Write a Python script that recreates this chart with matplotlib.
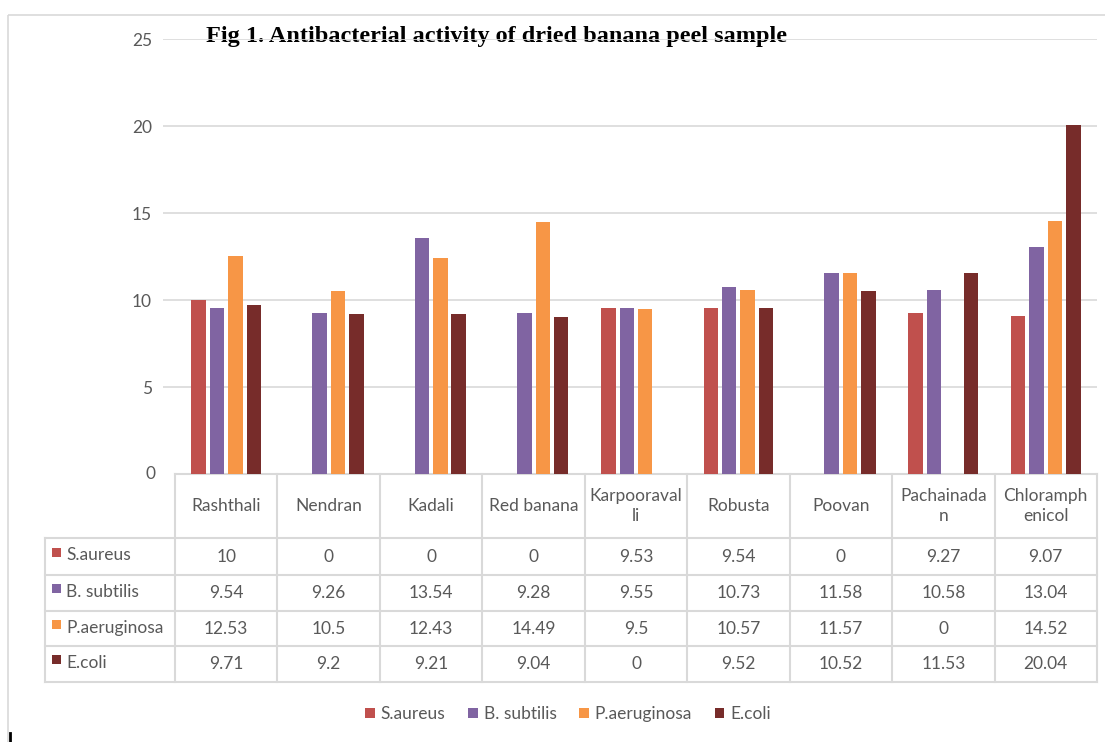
import numpy as np
import matplotlib.pyplot as plt
from matplotlib.patches import Rectangle

# Datos del gráfico
categorias = ["Rashthali", "Nendran", "Kadali", "Red banana", "Karpooraval\nli",
              "Robusta", "Poovan", "Pachainada\nn", "Chloramph\nenicol"]
series = ["S.aureus", "B. subtilis", "P.aeruginosa", "E.coli"]
s_aureus = [10, 0, 0, 0, 9.53, 9.54, 0, 9.27, 9.07]
b_subtilis = [9.54, 9.26, 13.54, 9.28, 9.55, 10.73, 11.58, 10.58, 13.04]
p_aeruginosa = [12.53, 10.5, 12.43, 14.49, 9.5, 10.57, 11.57, 0, 14.52]
e_coli = [9.71, 9.2, 9.21, 9.04, 0, 9.52, 10.52, 11.53, 20.04]
# texto tal como aparece en la tabla
tabla_txt = [
    ["10", "0", "0", "0", "9.53", "9.54", "0", "9.27", "9.07"],
    ["9.54", "9.26", "13.54", "9.28", "9.55", "10.73", "11.58", "10.58", "13.04"],
    ["12.53", "10.5", "12.43", "14.49", "9.5", "10.57", "11.57", "0", "14.52"],
    ["9.71", "9.2", "9.21", "9.04", "0", "9.52", "10.52", "11.53", "20.04"],
]
colores = ["#C0504D", "#8064A2", "#F79646", "#772C2A"]
yticks = [0, 5, 10, 15, 20, 25]

plt.rcParams['font.family'] = ['Lato', 'DejaVu Sans']
gris = "#595959"
linea = "#D9D9D9"
fs = 12.5

W, H = 1105, 742
fig = plt.figure(figsize=(W / 100, H / 100), dpi=100)

# capa en pixeles para tabla, marco y leyenda
base = fig.add_axes([0, 0, 1, 1])
base.set_xlim(0, W)
base.set_ylim(H, 0)
base.axis("off")

# marco exterior del gráfico
base.add_patch(Rectangle((8, 15), 1120, 760, fill=False, ec=linea, lw=1.2))
base.plot([10, 10], [733, 742], color="black", lw=2)

# posiciones de la tabla
x_ini, x_fin = 175, 1097
n = len(categorias)
ancho_col = (x_fin - x_ini) / n
x_izq = 163
y0, y25 = 474, 39

ax = fig.add_axes([x_izq / W, 1 - y0 / H, (x_fin - x_izq) / W, (y0 - y25) / H])
ax.set_xlim(-0.5 - (x_ini - x_izq) / ancho_col, n - 0.5)
ax.set_ylim(0, 25)
ax.set_yticks(yticks[1:])
ax.yaxis.grid(True, color=linea, lw=1.2)
ax.set_axisbelow(True)
ax.tick_params(axis="y", length=0, pad=8, labelsize=fs, labelcolor=gris)
ax.set_xticks([])
for s in ax.spines.values():
    s.set_visible(False)
ax.patch.set_alpha(0)

x = np.arange(n)
slot = 0.18
datos = [s_aureus, b_subtilis, p_aeruginosa, e_coli]
barras = []
for i, (vals, col) in enumerate(zip(datos, colores)):
    b = ax.bar(x + (i - 1.5) * slot, vals, width=0.142, color=col, label=series[i])
    barras.append(b)

# etiqueta del cero a la altura de la tabla
base.text(155, y0, "0", ha="right", va="center", fontsize=fs, color=gris)

# tabla de datos
filas_y = [474, 538, 575, 611, 646, 682]
x_cols = [x_ini + ancho_col * k for k in range(n + 1)]
base.plot([x_ini, x_fin], [filas_y[0], filas_y[0]], color=linea, lw=1.5)
for yy in filas_y[1:]:
    base.plot([45, x_fin], [yy, yy], color=linea, lw=1.5)
for xx in x_cols:
    base.plot([xx, xx], [filas_y[0], filas_y[-1]], color=linea, lw=1.5)
base.plot([45, 45], [filas_y[1], filas_y[-1]], color=linea, lw=1.5)

for k, cat in enumerate(categorias):
    cx = x_ini + ancho_col * (k + 0.5)
    base.text(cx, (filas_y[0] + filas_y[1]) / 2, cat, ha="center", va="center",
              fontsize=fs, color=gris, linespacing=1.3)
    for r in range(4):
        cy = (filas_y[r + 1] + filas_y[r + 2]) / 2
        base.text(cx, cy, tabla_txt[r][k], ha="center", va="center", fontsize=fs, color=gris)

for r in range(4):
    cy = (filas_y[r + 1] + filas_y[r + 2]) / 2
    base.add_patch(Rectangle((52, cy - 9), 9, 9, color=colores[r], lw=0))
    base.text(66, cy - 1, series[r], ha="left", va="center", fontsize=fs, color=gris)

# título
base.text(496, 42, "Fig 1. Antibacterial activity of dried banana peel sample",
          ha="center", va="baseline", fontsize=17.5, fontweight="bold",
          family="Liberation Serif", color="black")

# leyenda inferior
leg = fig.legend(handles=barras, labels=series, loc="center", ncol=4,
                 bbox_to_anchor=(568 / W, 1 - 714 / H), frameon=False,
                 handlelength=0.55, handleheight=0.55, handletextpad=0.35,
                 columnspacing=1.3, fontsize=fs)
for t in leg.get_texts():
    t.set_color(gris)

plt.savefig("out.png", dpi=100)
